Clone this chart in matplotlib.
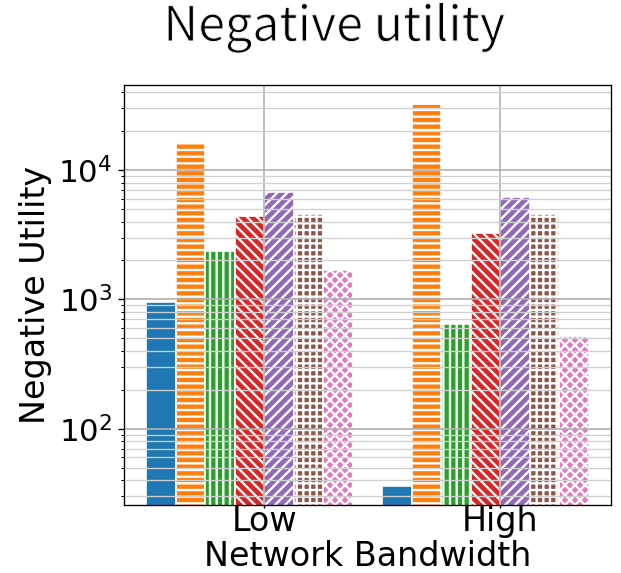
import numpy as np
import matplotlib
matplotlib.use("Agg")
import matplotlib.pyplot as plt
import matplotlib.patheffects as pe

groups = ["Low", "High"]
values = [
    [950, 36],        # blue
    [16500, 32500],   # orange
    [2350, 640],      # green
    [4400, 3250],     # red
    [6750, 6150],     # purple
    [4550, 4600],     # brown
    [1700, 520],      # pink
]
colors = ["tab:blue", "tab:orange", "tab:green", "tab:red",
          "tab:purple", "tab:brown", "tab:pink"]
hatches = ["", "---", "|||", "\\\\\\\\", "////", "+++", "xxxx"]

plt.rcParams["hatch.linewidth"] = 1.4

dpi = 120
fig = plt.figure(figsize=(621 / dpi, 573 / dpi), dpi=dpi)
ax = fig.add_axes([0.2, 0.119, 0.784, 0.733])

x = np.arange(len(groups))
w = 0.125
for k, vals in enumerate(values):
    ax.bar(x + (k - 4) * w, vals, w, align="edge", color=colors[k],
           edgecolor="white", linewidth=1, hatch=hatches[k])

ax.set_yscale("log")
ax.set_ylim(25.8, 45600)
ax.set_xticks(x)
ax.set_xticklabels(groups)
ax.tick_params(axis="y", labelsize=18.5)
ax.tick_params(axis="x", labelsize=20, length=2, pad=-2)
ax.set_ylabel("Negative Utility", fontsize=20)
ax.set_xlabel("Network Bandwidth", fontsize=20, labelpad=1.5)
ax.grid(True, which="major", color="#b0b0b0", linewidth=1)
ax.grid(True, which="minor", axis="y", color="#d0d0d0", linewidth=0.8)

# thin the title glyphs a little by stroking their outline in white
fig.text(0.538, 1 - 41 / 573, "Negative utility", fontsize=29,
         ha="center", va="baseline",
         family=["Noto Sans CJK SC", "DejaVu Sans"],
         path_effects=[pe.Normal(), pe.Stroke(linewidth=0.6, foreground="white")])

fig.savefig("out.png", dpi=dpi)
